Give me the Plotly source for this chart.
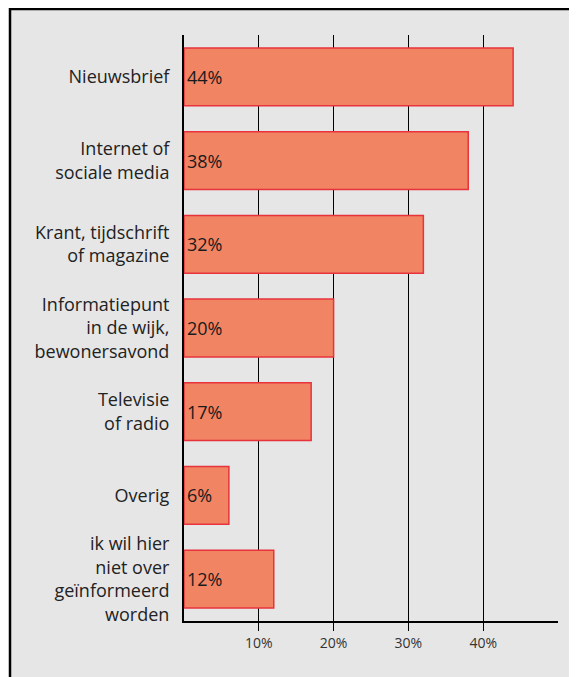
import plotly.graph_objects as go

categories = [
    "Nieuwsbrief",
    "Internet of<br>sociale media",
    "Krant, tijdschrift<br>of magazine",
    "Informatiepunt<br>in de wijk,<br>bewonersavond",
    "Televisie<br>of radio",
    "Overig",
    "ik wil hier<br>niet over<br>geïnformeerd<br>worden",
]
values = [44, 38, 32, 20, 17, 6, 12]
tick_vals = [10, 20, 30, 40]
tick_text = ["10%", "20%", "30%", "40%"]

FONT = "Open Sans"

fig = go.Figure(
    go.Bar(
        x=values,
        y=categories,
        orientation="h",
        marker=dict(color="#f18463", line=dict(color="#e8333c", width=1.5)),
        text=[f"{v}%" for v in values],
        textposition="inside",
        insidetextanchor="start",
        textangle=0,
        textfont=dict(family=FONT, size=18, color="#1a1a1a"),
        width=0.69,
        hoverinfo="skip",
    )
)

# page body adds an 8px offset; plot area lands at x 184-558, y 35-621 on screen
fig.update_layout(
    width=577,
    height=677,
    margin=dict(l=176, r=27, t=27, b=64),
    paper_bgcolor="white",
    plot_bgcolor="rgba(0,0,0,0)",
    showlegend=False,
    font=dict(family=FONT, color="#222222"),
    shapes=[
        dict(
            type="rect",
            xref="paper",
            yref="paper",
            x0=(10 - 184) / 374,
            x1=2.0,
            y0=-1.0,
            y1=(621 - 9) / 586,
            line=dict(color="black", width=2.5),
            fillcolor="#e6e6e6",
            layer="below",
        )
    ],
)

fig.update_xaxes(
    range=[0, 50],
    tickvals=tick_vals,
    ticktext=tick_text,
    showgrid=True,
    gridcolor="black",
    gridwidth=1,
    zeroline=False,
    showline=True,
    linecolor="black",
    linewidth=2,
    ticks="outside",
    ticklen=8,
    tickcolor="black",
    tickwidth=1,
    tickfont=dict(family=FONT, size=14, color="#333333"),
    fixedrange=True,
)

fig.update_yaxes(
    autorange="reversed",
    showgrid=False,
    zeroline=False,
    showline=True,
    linecolor="black",
    linewidth=2,
    ticks="",
    ticklabelstandoff=9,
    tickfont=dict(family=FONT, size=18, color="#222222"),
    fixedrange=True,
)

fig.write_html("out.html")
